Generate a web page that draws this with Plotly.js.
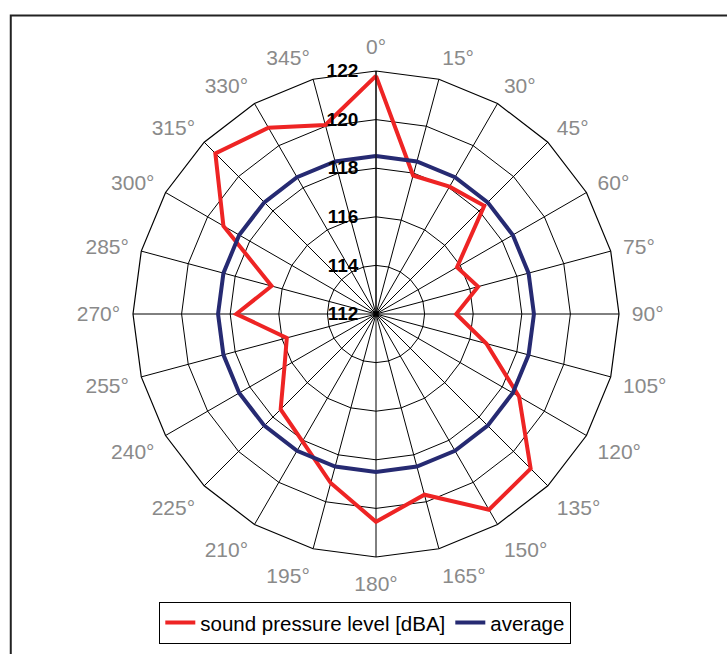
<!DOCTYPE html>
<html>
<head>
<meta charset="utf-8">
<script src="https://cdn.plot.ly/plotly-3.0.1.min.js"></script>
<style>
html,body{margin:0;padding:0;background:#fff;}
#chart{width:727px;height:654px;}
</style>
</head>
<body>
<div id="chart"></div>
<script>
// angles in degrees (clockwise from top)
const angles = [0,15,30,45,60,75,90,105,120,135,150,165,180,195,210,225,240,255,270,285,300,315,330,345];
// sound pressure level [dBA]
const splValues = [121.8,117.9,118.05,118.3,115.85,116.35,115.3,116.7,118.8,121.0,121.3,119.7,120.55,119.2,118.05,117.55,116.35,115.8,117.75,116.45,119.25,121.35,120.85,120.05];
// average
const avgValues = [118.5,118.5,118.5,118.5,118.5,118.5,118.5,118.5,118.5,118.5,118.5,118.5,118.5,118.5,118.5,118.5,118.5,118.5,118.5,118.5,118.5,118.5,118.5,118.5];
const radialTicks = [112,114,116,118,120,122];
const seriesNames = ['sound pressure level [dBA]','average'];
const angleLabels = angles.map(a => a + '°');

function closed(arr){ return arr.concat([arr[0]]); }

const traces = [
  {type:'scatterpolar', mode:'lines', name:seriesNames[0],
   theta: closed(angleLabels), r: closed(splValues),
   line:{color:'#ee2424', width:4}},
  {type:'scatterpolar', mode:'lines', name:seriesNames[1],
   theta: closed(angleLabels), r: closed(avgValues),
   line:{color:'#262a72', width:4}}
];

const pad = '\u00a0'.repeat(2);

const layout = {
  width:727, height:654,
  margin:{l:133, r:108, t:71, b:97, autoexpand:false},
  paper_bgcolor:'#fff',
  font:{family:'Liberation Sans, Arial, sans-serif', size:18, color:'#000'},
  polar:{
    bgcolor:'#fff',
    gridshape:'linear',
    angularaxis:{
      type:'category', categoryorder:'array', categoryarray:angleLabels,
      rotation:90, direction:'clockwise',
      tickfont:{size:21, color:'#8a8a8a', family:'Liberation Sans, Arial, sans-serif'},
      ticks:'outside', ticklen:8, tickcolor:'rgba(0,0,0,0)',
      showline:true, linecolor:'#000', linewidth:1.2,
      showgrid:true, gridcolor:'#000', gridwidth:1
    },
    radialaxis:{
      range:[112,122], angle:90, side:'counterclockwise',
      tickmode:'array', tickvals:radialTicks, ticktext:radialTicks.map(v => v + pad),
      tickangle:90,
      tickfont:{size:19, color:'#000', weight:'bold', family:'Liberation Sans, Arial, sans-serif'},
      ticks:'', showline:true, linecolor:'#000', linewidth:1,
      showgrid:true, gridcolor:'#000', gridwidth:1
    }
  },
  showlegend:true,
  legend:{
    orientation:'h', x:0.478, xanchor:'center', y:-0.092, yanchor:'top',
    bordercolor:'#000', borderwidth:1, bgcolor:'#fff',
    font:{size:20.5, color:'#000'}
  },
  shapes:[
    {type:'path', xref:'paper', yref:'paper',
     path:'M -0.2515 -0.3 L -0.2515 1.1144 L 1.4 1.1144',
     line:{color:'#222', width:2}}
  ]
};

Plotly.newPlot('chart', traces, layout, {displayModeBar:false, staticPlot:true});
</script>
</body>
</html>
